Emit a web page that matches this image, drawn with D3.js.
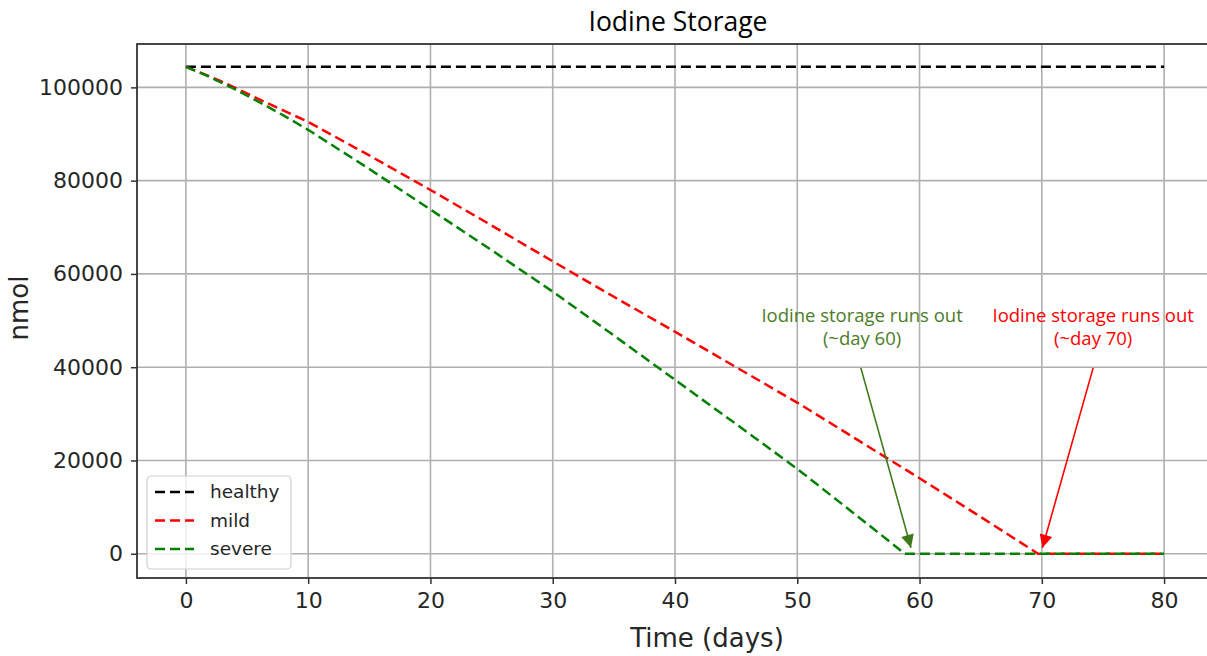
<!DOCTYPE html>
<html lang="en">
<head>
<meta charset="utf-8">
<title>Iodine Storage</title>
<script src="https://cdn.jsdelivr.net/npm/d3@7"></script>
<style>
  body { margin: 0; background: #fff; }
  svg { display: block; }
</style>
</head>
<body>
<script>
// series data (days, nmol)
var healthyDays = [0, 80];
var healthyVals = [104400, 104400];

var mildDays = [0, 1, 2, 3, 4, 6, 8, 10, 15, 20, 25, 30, 35, 40, 45, 50, 55, 60, 65, 69.7, 75, 80];
var mildVals = [104400, 103350, 102300, 101150, 99950, 97450, 95000, 92600, 85400, 78000, 70400, 62700, 55100, 47600, 40000, 32400, 24300, 16200, 7900, 0, 0, 0];

var severeDays = [0, 1, 2, 3, 4, 6, 8, 10, 15, 20, 25, 30, 35, 40, 45, 50, 55, 58.8, 65, 70, 75, 80];
var severeVals = [104400, 103300, 102150, 100900, 99600, 96850, 93950, 90900, 82500, 73800, 65100, 56200, 46800, 37300, 27800, 18200, 7900, 0, 0, 0, 0, 0];

var seriesNames = ["healthy", "mild", "severe"];
var seriesColors = ["#000000", "#ff0000", "#008000"];

var xTicks = [0, 10, 20, 30, 40, 50, 60, 70, 80];
var yTicks = [0, 20000, 40000, 60000, 80000, 100000];

// annotations: text position, arrow start and tip (data coords)
var noteLines = [["Iodine storage runs out", "(~day 60)"], ["Iodine storage runs out", "(~day 70)"]];
var noteTextX = [55.3, 74.2];
var noteFrom = [[55.2, 39850], [74.2, 39850]];
var noteTo = [[59.3, 1300], [70.05, 1300]];
var noteColors = ["#4b7d27", "#ff0000"];
var arrowColors = ["#3e7a1c", "#ff0000"];

var w = 1207, h = 656;
var pLeft = 137, pRight = 1213, pTop = 44, pBottom = 578;

var svg = d3.select("body").append("svg")
    .attr("width", w)
    .attr("height", h);

var xScale = d3.scaleLinear().domain([-4, 84]).range([pLeft, pRight]);
var yScale = d3.scaleLinear().domain([-5200, 109300]).range([pBottom, pTop]);

// grid
svg.append("g").selectAll("line").data(xTicks).enter().append("line")
    .attr("x1", function(d) { return xScale(d); })
    .attr("x2", function(d) { return xScale(d); })
    .attr("y1", pTop).attr("y2", pBottom)
    .attr("stroke", "#b0b0b0").attr("stroke-width", 1.6);
svg.append("g").selectAll("line").data(yTicks).enter().append("line")
    .attr("y1", function(d) { return yScale(d); })
    .attr("y2", function(d) { return yScale(d); })
    .attr("x1", pLeft).attr("x2", pRight)
    .attr("stroke", "#b0b0b0").attr("stroke-width", 1.6);

// axes
var xAxis = svg.append("g")
    .attr("transform", "translate(0," + pBottom + ")")
    .call(d3.axisBottom(xScale).tickValues(xTicks).tickSize(6).tickPadding(8));
var yAxis = svg.append("g")
    .attr("transform", "translate(" + pLeft + ",0)")
    .call(d3.axisLeft(yScale).tickValues(yTicks).tickSize(6).tickPadding(8).tickFormat(d3.format("d")));
[xAxis, yAxis].forEach(function(a) {
    a.select(".domain").remove();
    a.selectAll("line").attr("stroke", "#333").attr("stroke-width", 1.5);
    a.selectAll("text")
        .attr("font-family", "DejaVu Sans")
        .attr("font-size", "22px")
        .attr("fill", "#262626");
});

// frame (right edge falls outside the picture)
svg.append("rect")
    .attr("x", pLeft).attr("y", pTop)
    .attr("width", pRight - pLeft).attr("height", pBottom - pTop)
    .attr("fill", "none").attr("stroke", "#333").attr("stroke-width", 1.8);

// lines
var line = d3.line()
    .x(function(d) { return xScale(d[0]); })
    .y(function(d) { return yScale(d[1]); });

var seriesData = [
    d3.zip(healthyDays, healthyVals),
    d3.zip(mildDays, mildVals),
    d3.zip(severeDays, severeVals)
];

svg.append("g").selectAll("path").data(seriesData).enter().append("path")
    .attr("d", line)
    .attr("fill", "none")
    .attr("stroke", function(d, i) { return seriesColors[i]; })
    .attr("stroke-width", 2.5)
    .attr("stroke-dasharray", "10,5");

// annotations
var defs = svg.append("defs");
arrowColors.forEach(function(c, i) {
    defs.append("marker")
        .attr("id", "head" + i)
        .attr("viewBox", "0 0 10 10")
        .attr("refX", 10).attr("refY", 5)
        .attr("markerWidth", 18).attr("markerHeight", 13)
        .attr("markerUnits", "userSpaceOnUse")
        .attr("orient", "auto")
        .append("path")
        .attr("d", "M0,0 L10,5 L0,10 z")
        .attr("fill", c);
});

noteLines.forEach(function(lines, i) {
    svg.append("line")
        .attr("x1", xScale(noteFrom[i][0])).attr("y1", yScale(noteFrom[i][1]))
        .attr("x2", xScale(noteTo[i][0])).attr("y2", yScale(noteTo[i][1]))
        .attr("stroke", arrowColors[i]).attr("stroke-width", 1.6)
        .attr("marker-end", "url(#head" + i + ")");
    lines.forEach(function(s, j) {
        svg.append("text")
            .attr("x", xScale(noteTextX[i]))
            .attr("y", 322 + j * 23)
            .attr("text-anchor", "middle")
            .attr("font-family", "Open Sans")
            .attr("font-size", "18.5px")
            .attr("fill", noteColors[i])
            .text(s);
    });
});

// legend
var lg = svg.append("g").attr("transform", "translate(147,476)");
lg.append("rect")
    .attr("width", 144).attr("height", 93)
    .attr("rx", 4)
    .attr("fill", "#fff").attr("fill-opacity", 0.8)
    .attr("stroke", "#d0d0d0").attr("stroke-width", 1.2);
seriesNames.forEach(function(name, i) {
    var yy = 16 + i * 28.5;
    lg.append("line")
        .attr("x1", 8).attr("x2", 47)
        .attr("y1", yy).attr("y2", yy)
        .attr("stroke", seriesColors[i]).attr("stroke-width", 2.5)
        .attr("stroke-dasharray", "10,5");
    lg.append("text")
        .attr("x", 63).attr("y", yy + 6)
        .attr("font-family", "DejaVu Sans")
        .attr("font-size", "18.5px")
        .attr("fill", "#262626")
        .text(name);
});

// labels
svg.append("text")
    .attr("x", 678).attr("y", 31)
    .attr("text-anchor", "middle")
    .attr("font-family", "Open Sans")
    .attr("font-size", "26.5px")
    .attr("fill", "#000")
    .text("Iodine Storage");

svg.append("text")
    .attr("x", 707).attr("y", 647)
    .attr("text-anchor", "middle")
    .attr("font-family", "DejaVu Sans")
    .attr("font-size", "26px")
    .attr("fill", "#262626")
    .text("Time (days)");

svg.append("text")
    .attr("transform", "translate(28,308) rotate(-90)")
    .attr("text-anchor", "middle")
    .attr("font-family", "DejaVu Sans")
    .attr("font-size", "26px")
    .attr("fill", "#262626")
    .text("nmol");
</script>
</body>
</html>
